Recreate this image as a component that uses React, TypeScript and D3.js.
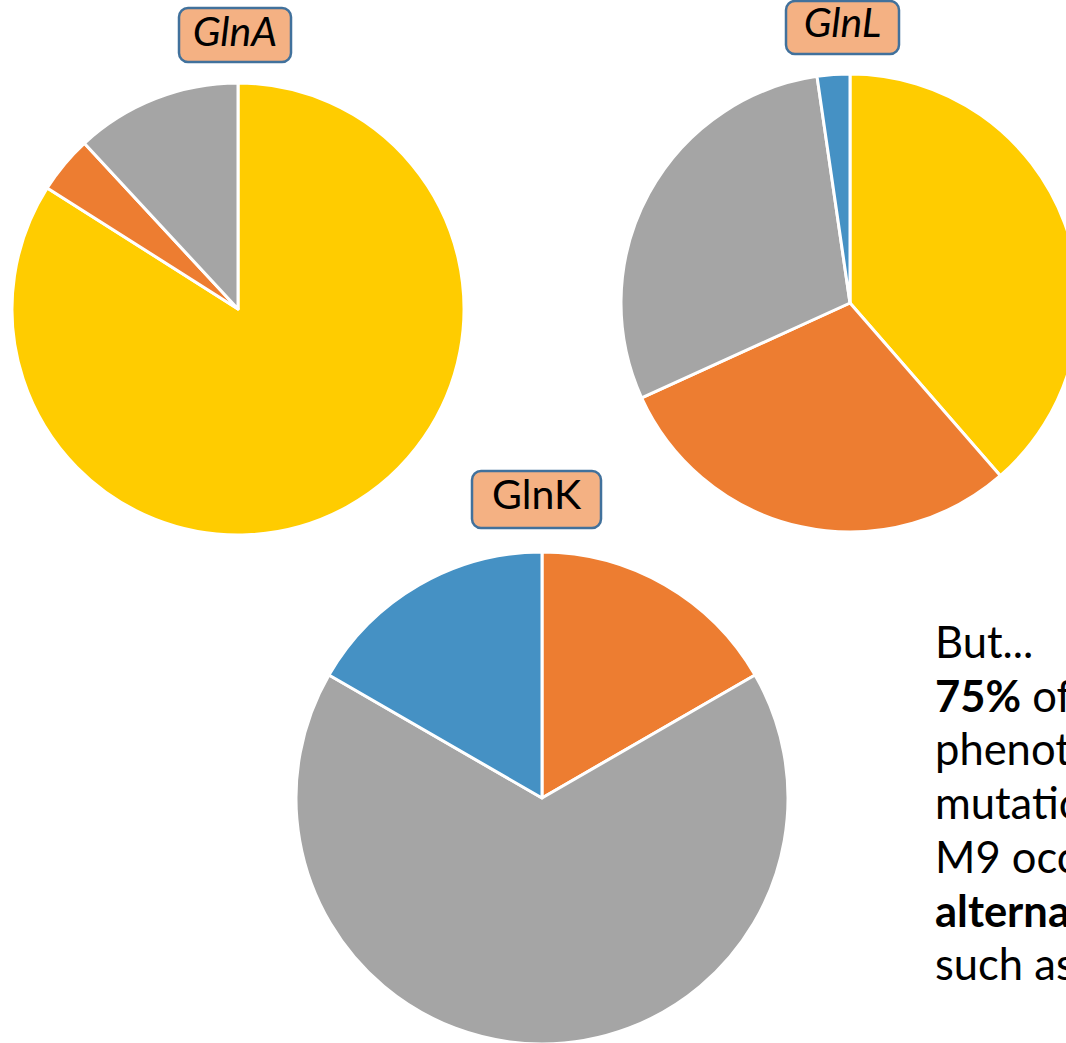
import React from "react";
import * as d3 from "d3";

// Slice categories share one colour order across all three pies
const sliceColors = ["#FFCC00", "#ED7D31", "#A5A5A5", "#4591C4"];

// Share of each category per gene (percent)
const glnAValues = [84, 4.1, 11.9, 0];
const glnLValues = [38.6, 29.6, 29.5, 2.3];
const glnKValues = [0, 1, 4, 1];

const pieTitles = ["GlnA", "GlnL", "GlnK"];

const noteLines = [
  { bold: "", rest: "But..." },
  { bold: "75%", rest: " of the" },
  { bold: "", rest: "phenotypic" },
  { bold: "", rest: "mutations in" },
  { bold: "", rest: "M9 occur in" },
  { bold: "alternative", rest: "" },
  { bold: "", rest: "such as" },
];

const W = 1066;
const H = 1043;

type PieSpec = {
  values: number[];
  cx: number;
  cy: number;
  r: number;
  title: string;
  italic: boolean;
  box: { x: number; y: number; w: number; h: number; ty: number };
};

const pies: PieSpec[] = [
  { values: glnAValues, cx: 238, cy: 309, r: 226, title: pieTitles[0], italic: true, box: { x: 179, y: 8, w: 112, h: 54, ty: 46 } },
  { values: glnLValues, cx: 850, cy: 303, r: 229, title: pieTitles[1], italic: true, box: { x: 786, y: 1, w: 113, h: 53, ty: 37 } },
  { values: glnKValues, cx: 542, cy: 798, r: 246, title: pieTitles[2], italic: false, box: { x: 472, y: 471, w: 129, h: 57, ty: 509 } },
];

const pieGen = d3
  .pie<number>()
  .sort(null)
  .value((d) => d)
  .startAngle(0)
  .endAngle(2 * Math.PI);

function Pie({ spec }: { spec: PieSpec }) {
  const arcGen = d3.arc<d3.PieArcDatum<number>>().innerRadius(0).outerRadius(spec.r);
  const arcs = pieGen(spec.values);
  return (
    <g transform={`translate(${spec.cx},${spec.cy})`}>
      {arcs.map((a, i) =>
        a.value > 0 ? (
          <path
            key={i}
            d={arcGen(a) || ""}
            fill={sliceColors[i]}
            stroke="#ffffff"
            strokeWidth={3}
            strokeLinejoin="round"
          />
        ) : null
      )}
    </g>
  );
}

function TitleBox({ spec }: { spec: PieSpec }) {
  const b = spec.box;
  return (
    <g>
      <rect x={b.x} y={b.y} width={b.w} height={b.h} rx={9} ry={9} fill="#F4B183" stroke="#41719C" strokeWidth={2.5} />
      <text
        x={b.x + b.w / 2}
        y={b.ty}
        textAnchor="middle"
        fontFamily="Lato, 'Open Sans', sans-serif"
        fontSize={41}
        fontStyle={spec.italic ? "italic" : "normal"}
        fill="#000"
      >
        {spec.title}
      </text>
    </g>
  );
}

export default function App() {
  return (
    <div style={{ position: "absolute", left: 0, top: 0, width: W, height: H, background: "#fff" }}>
      <svg width={W} height={H} viewBox={`0 0 ${W} ${H}`} style={{ display: "block" }}>
        <rect x={0} y={0} width={W} height={H} fill="#ffffff" />
        {pies.map((p, i) => (
          <Pie key={i} spec={p} />
        ))}
        {pies.map((p, i) => (
          <TitleBox key={"t" + i} spec={p} />
        ))}
        <g fontFamily="Lato, 'Open Sans', sans-serif" fontSize={43.5} fill="#000">
          {noteLines.map((ln, i) => (
            <text key={i} x={935} y={658 + i * 53.7}>
              {ln.bold ? <tspan fontWeight="bold">{ln.bold}</tspan> : null}
              {ln.rest ? <tspan>{ln.rest}</tspan> : null}
            </text>
          ))}
        </g>
      </svg>
    </div>
  );
}
